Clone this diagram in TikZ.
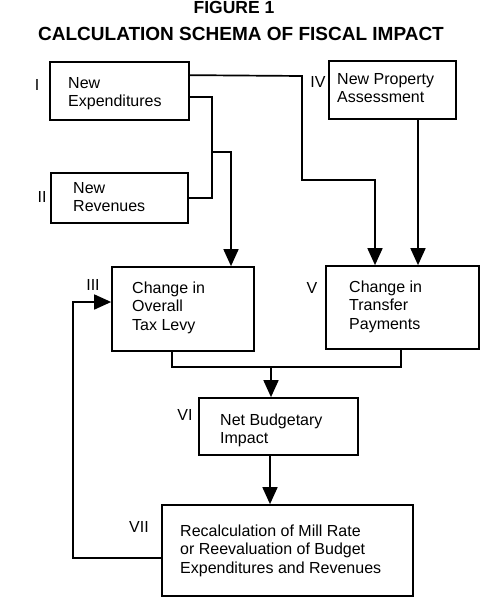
\documentclass[tikz,border=0pt]{standalone}
\usepackage{fontspec}
\setmainfont{Liberation Sans}
\usetikzlibrary{arrows.meta}
\begin{document}
\begin{tikzpicture}[x=1bp,y=-1bp,
  box/.style={draw,line width=1.7bp,inner sep=0pt,minimum width=#1},
  txt/.style={anchor=north west,inner sep=0pt,align=left,font=\fontsize{16bp}{18.5bp}\selectfont},
  lab/.style={inner sep=0pt,font=\fontsize{16bp}{18.5bp}\selectfont},
  ttl/.style={anchor=base,inner sep=0pt,font=\bfseries\fontsize{#1}{#1}\selectfont},
  ln/.style={line width=1.7bp},
  arr/.style={ln,-{Triangle[length=17bp,width=15bp]}}]
\useasboundingbox (0,0) rectangle (500,606);
% title
\node[ttl=17.5bp] (t1) at (234,14) {FIGURE 1};
\node[ttl=19bp] (t2) at (241,41) {CALCULATION SCHEMA OF FISCAL IMPACT};
% boxes
\node[box=139bp,minimum height=58bp] (n1) at (119.5,91) {};
\node[box=137bp,minimum height=50bp] (n2) at (119.5,198) {};
\node[box=127bp,minimum height=58bp] (n4) at (392.5,90) {};
\node[box=142bp,minimum height=84bp] (n3) at (183,309) {};
\node[box=153bp,minimum height=83bp] (n5) at (402.5,307.5) {};
\node[box=159bp,minimum height=57bp] (n6) at (278.5,426.5) {};
\node[box=251bp,minimum height=91bp] (n7) at (287.5,550.5) {};
% texts
\node[txt] (x1) at (68,77) {New\\Expenditures};
\node[txt] (x2) at (73,182) {New\\Revenues};
\node[txt] (x4) at (337,73) {New Property\\Assessment};
\node[txt] (x3) at (132,281.5) {Change in\\Overall\\Tax Levy};
\node[txt] (x5) at (349,280.5) {Change in\\Transfer\\Payments};
\node[txt] (x6) at (220,413.5) {Net Budgetary\\Impact};
\node[txt] (x7) at (180,524.5) {Recalculation of Mill Rate\\or Reevaluation of Budget\\Expenditures and Revenues};
% labels
\node[lab] (l1) at (37,85) {I};
\node[lab] (l2) at (42,197) {II};
\node[lab] (l3) at (93,285) {III};
\node[lab] (l4) at (318,82) {IV};
\node[lab] (l5) at (312,288) {V};
\node[lab] (l6) at (185,415) {VI};
\node[lab] (l7) at (139,527) {VII};
% connectors
\coordinate (j1) at (212,152);
\coordinate (j2) at (271,367);
\draw[arr] ([yshift=-14bp]n1.north east) -- (302,76) |- (375,180) -- (n5.north -| 375,0);
\draw[ln] ([yshift=-36bp]n1.north east) -| (n2.east -| 212,0) -- (n2.east);
\draw[arr] (j1) -| (n3.north -| 231,0);
\draw[arr] (n4.south -| 418,0) -- (n5.north -| 418,0);
\draw[ln] (n3.south -| 172,0) |- (j2) -| (n5.south -| 401,0);
\draw[arr] (j2) -- (n6.north -| 271,0);
\draw[arr] (n6.south -| 270,0) -- (n7.north -| 270,0);
\draw[arr] (n7.west |- 0,558) -| (73,302) -- (n3.west |- 0,302);
\end{tikzpicture}
\end{document}
